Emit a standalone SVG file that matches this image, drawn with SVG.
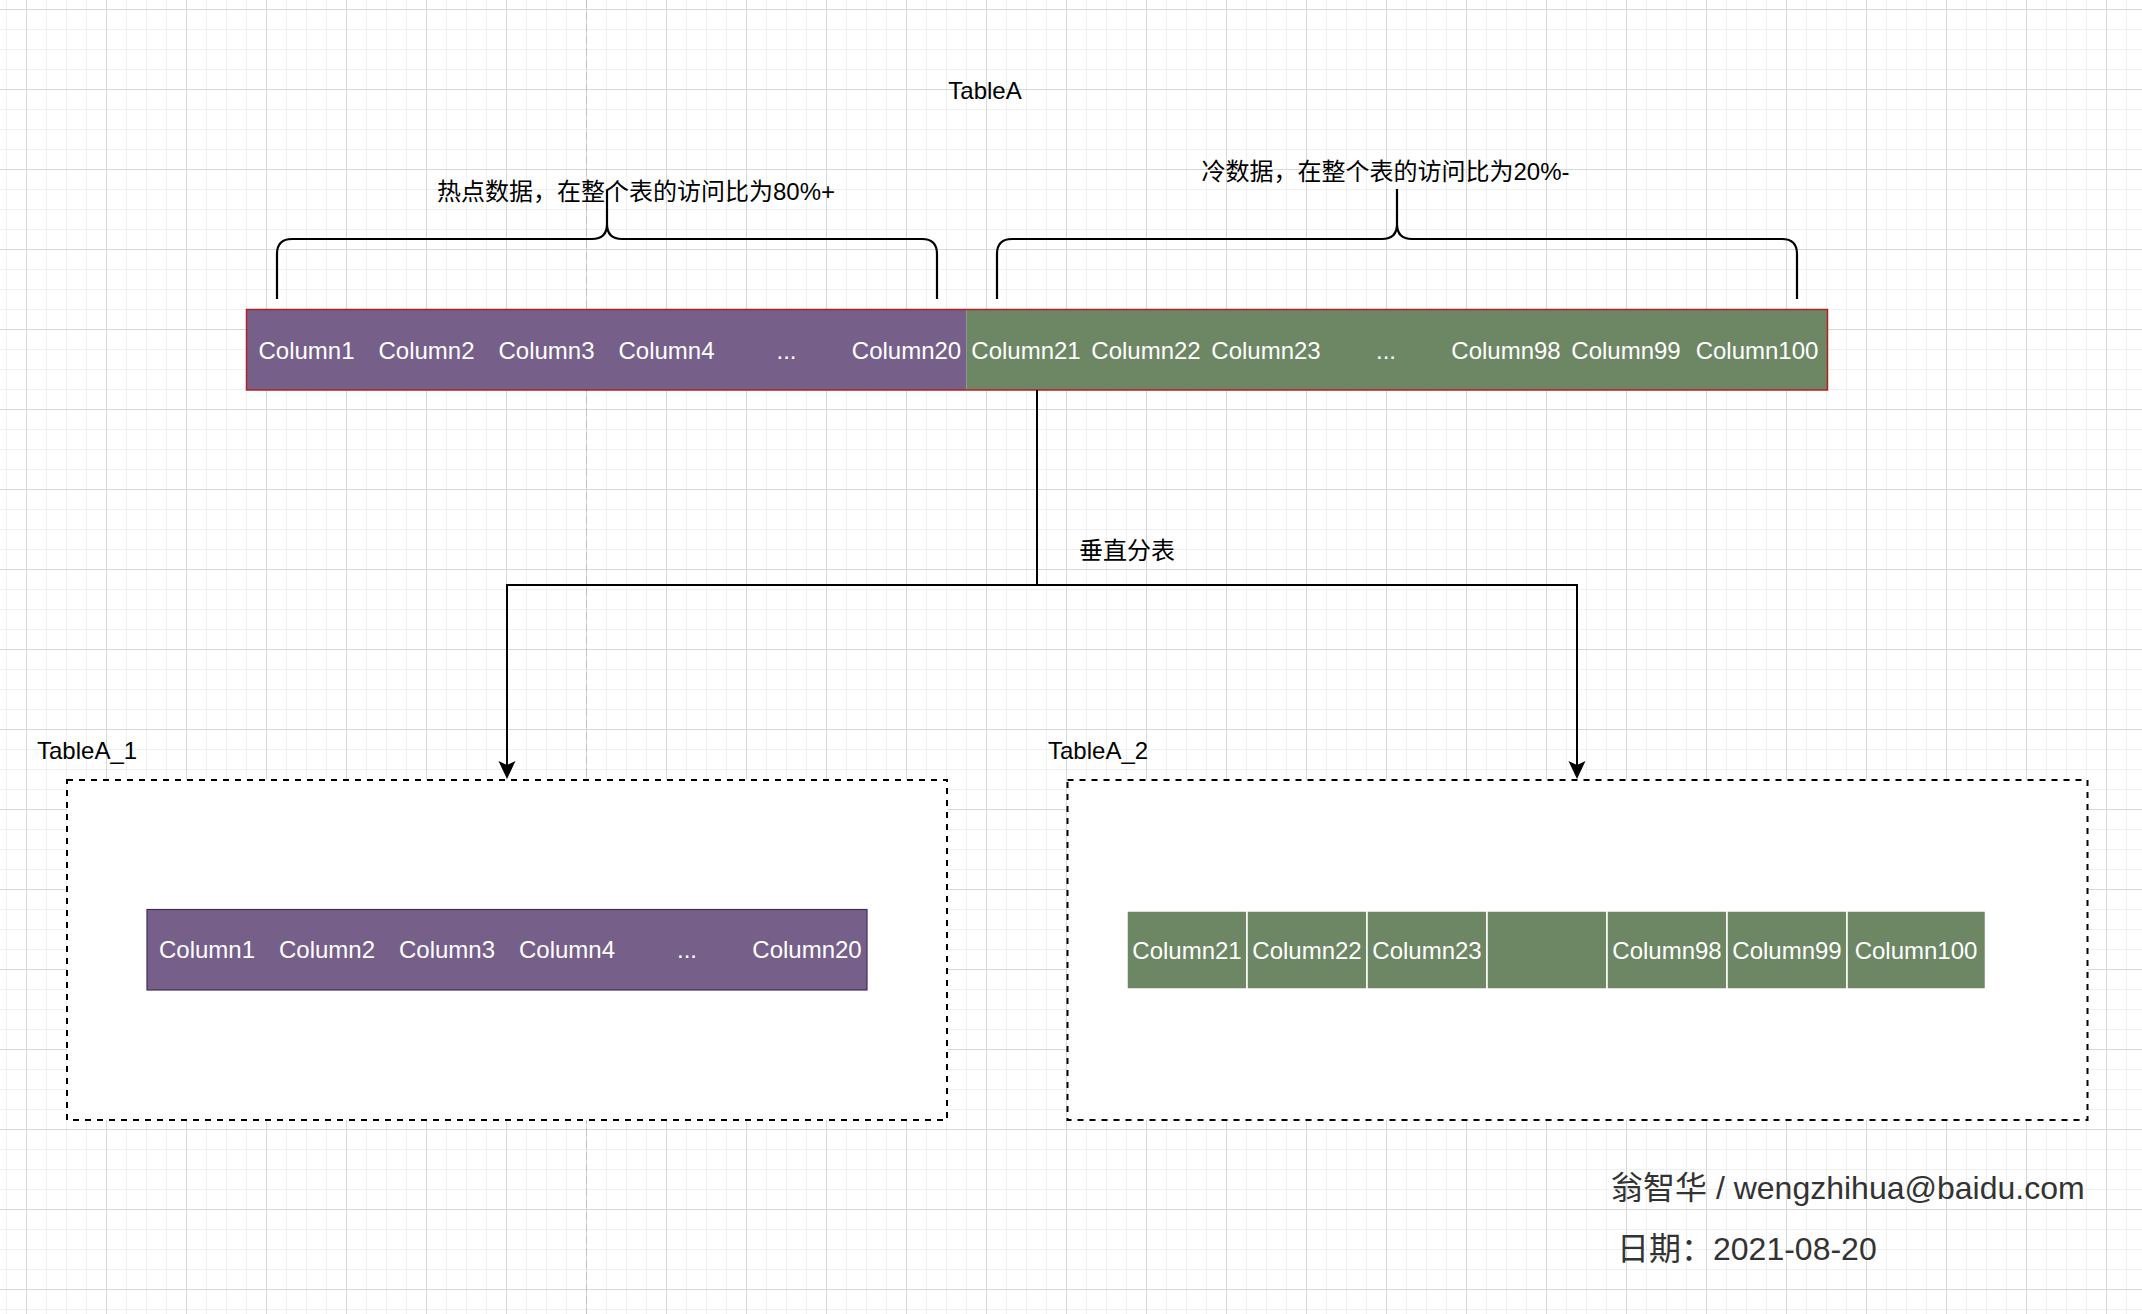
<svg xmlns="http://www.w3.org/2000/svg" width="2142" height="1314" viewBox="0 0 2142 1314">
  <defs>
    <pattern id="grid" x="26" y="9" width="80" height="80" patternUnits="userSpaceOnUse">
      <rect x="20" y="0" width="1" height="80" fill="#f0f0f0"/>
      <rect x="40" y="0" width="1" height="80" fill="#f0f0f0"/>
      <rect x="60" y="0" width="1" height="80" fill="#f0f0f0"/>
      <rect x="0" y="20" width="80" height="1" fill="#f0f0f0"/>
      <rect x="0" y="40" width="80" height="1" fill="#f0f0f0"/>
      <rect x="0" y="60" width="80" height="1" fill="#f0f0f0"/>
      <rect x="0" y="0" width="1" height="80" fill="#d8d8d8"/>
      <rect x="0" y="0" width="80" height="1" fill="#d8d8d8"/>
    </pattern>
    <marker id="arrow" markerUnits="userSpaceOnUse" markerWidth="20" markerHeight="20" refX="0" refY="0" orient="auto" overflow="visible">
      <path d="M13,0 L-5,-8.5 L-1,0 L-5,8.5 Z" fill="#000"/>
    </marker>
    <style>
      text { font-family: 'Liberation Sans', 'Noto Sans CJK SC', sans-serif; }
      .lbl { font-size: 24px; fill: #000; }
      .col { font-size: 24px; fill: #ffffff; text-anchor: middle; }
      .brace { fill: none; stroke: #000; stroke-width: 2.2; }
      .conn { fill: none; stroke: #000; stroke-width: 2; }
      .dashbox { fill: #ffffff; stroke: #000; stroke-width: 2; stroke-dasharray: 6 6; }
      .foot { font-size: 32px; fill: #333333; }
    </style>
  </defs>

  <rect x="0" y="0" width="2142" height="1314" fill="#ffffff"/>
  <rect x="0" y="0" width="2142" height="1314" fill="url(#grid)"/>
  <line x1="586.5" y1="0" x2="586.5" y2="1314" stroke="#c2c2c2" stroke-width="1" stroke-dasharray="8 4"/>

  <g id="label-tableA">
    <text class="lbl" x="985" y="98.5" text-anchor="middle">TableA</text>
  </g>

  <g id="node-hot-brace">
    <path class="brace" d="M277,299 V254 Q277,239 292,239 H592 Q607,239 607,224 V190 M607,224 Q607,239 622,239 H922 Q937,239 937,254 V299"/>
    <text class="lbl" x="636" y="199.5" text-anchor="middle">热点数据，在整个表的访问比为80%+</text>
  </g>

  <g id="node-cold-brace">
    <path class="brace" d="M997,299 V254 Q997,239 1012,239 H1382 Q1397,239 1397,224 V189 M1397,224 Q1397,239 1412,239 H1782 Q1797,239 1797,254 V299"/>
    <text class="lbl" x="1385.5" y="179.5" text-anchor="middle">冷数据，在整个表的访问比为20%-</text>
  </g>

  <g id="node-tableA">
    <rect x="246.5" y="309.5" width="720" height="80.5" fill="#76608a"/>
    <rect x="966.5" y="309.5" width="861" height="80.5" fill="#6d8764"/>
    <rect x="246.5" y="309.5" width="1581" height="80.5" fill="none" stroke="#b22020" stroke-width="1.5"/>
    <text class="col" x="306.5" y="359">Column1</text>
    <text class="col" x="426.5" y="359">Column2</text>
    <text class="col" x="546.5" y="359">Column3</text>
    <text class="col" x="666.5" y="359">Column4</text>
    <text class="col" x="786.5" y="359">...</text>
    <text class="col" x="906.5" y="359">Column20</text>
    <text class="col" x="1026" y="359">Column21</text>
    <text class="col" x="1146" y="359">Column22</text>
    <text class="col" x="1266" y="359">Column23</text>
    <text class="col" x="1386" y="359">...</text>
    <text class="col" x="1506" y="359">Column98</text>
    <text class="col" x="1626" y="359">Column99</text>
    <text class="col" x="1757" y="359">Column100</text>
  </g>

  <g id="connectors">
    <path class="conn" d="M1037,390 V585 H507 V766" marker-end="url(#arrow)"/>
    <path class="conn" d="M1037,390 V585 H1577 V766" marker-end="url(#arrow)"/>
    <text class="lbl" x="1127" y="558.5" text-anchor="middle">垂直分表</text>
  </g>

  <g id="node-tableA_1">
    <text class="lbl" x="37" y="759">TableA_1</text>
    <rect class="dashbox" x="67" y="780" width="880" height="340"/>
    <rect x="147" y="909.5" width="720" height="80.5" fill="#76608a" stroke="#432d57" stroke-width="1.2"/>
    <text class="col" x="207" y="958">Column1</text>
    <text class="col" x="327" y="958">Column2</text>
    <text class="col" x="447" y="958">Column3</text>
    <text class="col" x="567" y="958">Column4</text>
    <text class="col" x="687" y="958">...</text>
    <text class="col" x="807" y="958">Column20</text>
  </g>

  <g id="node-tableA_2">
    <text class="lbl" x="1048" y="759">TableA_2</text>
    <rect class="dashbox" x="1067.5" y="780" width="1020" height="340"/>
    <g fill="#6d8764" stroke="#ffffff" stroke-width="1.5">
      <rect x="1127" y="911" width="120" height="78"/>
      <rect x="1247" y="911" width="120" height="78"/>
      <rect x="1367" y="911" width="120" height="78"/>
      <rect x="1487" y="911" width="120" height="78"/>
      <rect x="1607" y="911" width="120" height="78"/>
      <rect x="1727" y="911" width="120" height="78"/>
      <rect x="1847" y="911" width="138.5" height="78"/>
    </g>
    <text class="col" x="1187" y="959">Column21</text>
    <text class="col" x="1307" y="959">Column22</text>
    <text class="col" x="1427" y="959">Column23</text>
    <text class="col" x="1667" y="959">Column98</text>
    <text class="col" x="1787" y="959">Column99</text>
    <text class="col" x="1916" y="959">Column100</text>
  </g>

  <g id="footer">
    <text class="foot" x="1611" y="1199">翁智华 / wengzhihua@baidu.com</text>
    <text class="foot" x="1617" y="1260">日期：2021-08-20</text>
  </g>
</svg>
